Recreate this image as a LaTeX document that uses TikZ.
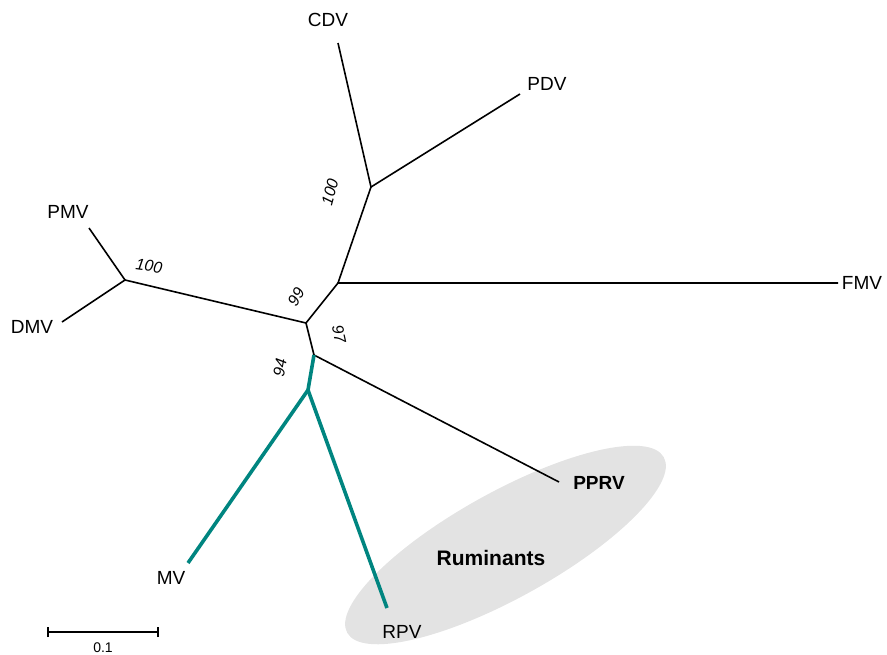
\documentclass[tikz,border=0pt]{standalone}
\usepackage{fontspec}
\setmainfont{Liberation Sans}
\begin{document}
\begin{tikzpicture}[x=1pt,y=-1pt,
  branch/.style={line width=1.6pt,black},
  ruminant/.style={line width=3.6pt,color=tealbranch},
  taxon/.style={font=\fontsize{19}{21}\selectfont,inner sep=1pt},
  boldtaxon/.style={font=\fontsize{19}{21}\selectfont\bfseries,inner sep=1pt},
  boot/.style={font=\fontsize{16}{18}\selectfont\itshape,inner sep=0pt}]
\definecolor{tealbranch}{RGB}{0,133,128}
\definecolor{groupfill}{RGB}{227,227,227}
\useasboundingbox (0,0) rectangle (887,654);

% ruminant host group
\fill[groupfill,rotate around={29:(505.5,545)}] (505.5,545) ellipse (181 and 53);

% internal nodes
\coordinate (pm) at (125,280);
\coordinate (b)  at (306,323);
\coordinate (c)  at (338,283);
\coordinate (d)  at (371,187);
\coordinate (e)  at (314,355);
\coordinate (f)  at (308,390);

% leaf tips
\coordinate (pmvtip)  at (89,228);
\coordinate (dmvtip)  at (62,322);
\coordinate (cdvtip)  at (338,43);
\coordinate (pdvtip)  at (520,94);
\coordinate (fmvtip)  at (838,283);
\coordinate (pprvtip) at (559,482);
\coordinate (mvtip)   at (188,563);
\coordinate (rpvtip)  at (387,608);

% tree
\draw[branch] (pmvtip) -- (pm) -- (dmvtip);
\draw[branch] (pm) -- (b) -- (c) -- (fmvtip);
\draw[branch] (c) -- (d) -- (cdvtip);
\draw[branch] (d) -- (pdvtip);
\draw[branch] (b) -- (e) -- (pprvtip);
\draw[ruminant] (e) -- (f);
\draw[ruminant] (f) -- (mvtip);
\draw[ruminant] (f) -- (rpvtip);

% taxa
\node[taxon] (PMV) at (68,212) {PMV};
\node[taxon] (DMV) at (32,327) {DMV};
\node[taxon] (CDV) at (328,20) {CDV};
\node[taxon] (PDV) at (547,84) {PDV};
\node[taxon] (FMV) at (862,283) {FMV};
\node[boldtaxon] (PPRV) at (599,483) {PPRV};
\node[taxon] (MV) at (171,578) {MV};
\node[taxon] (RPV) at (402,632) {RPV};
\node[font=\fontsize{21}{23}\selectfont\bfseries] (rum) at (491,558) {Ruminants};

% bootstrap support
\node[boot,rotate=-8] (s1) at (149,266) {100};
\node[boot,rotate=75] (s2) at (330,192) {100};
\node[boot,rotate=60] (s3) at (296,297) {99};
\node[boot,rotate=-78] (s4) at (339,334) {97};
\node[boot,rotate=80] (s5) at (280,368) {94};

% scale bar
\coordinate (sl) at (48,632);
\coordinate (sr) at (158,632);
\draw[line width=1.5pt] (sl) -- (sr);
\draw[line width=1.5pt] ([yshift=-5pt]sl) -- ([yshift=5pt]sl);
\draw[line width=1.5pt] ([yshift=-5pt]sr) -- ([yshift=5pt]sr);
\node[font=\fontsize{14}{16}\selectfont] (scale) at (103,648) {0.1};
\end{tikzpicture}
\end{document}
